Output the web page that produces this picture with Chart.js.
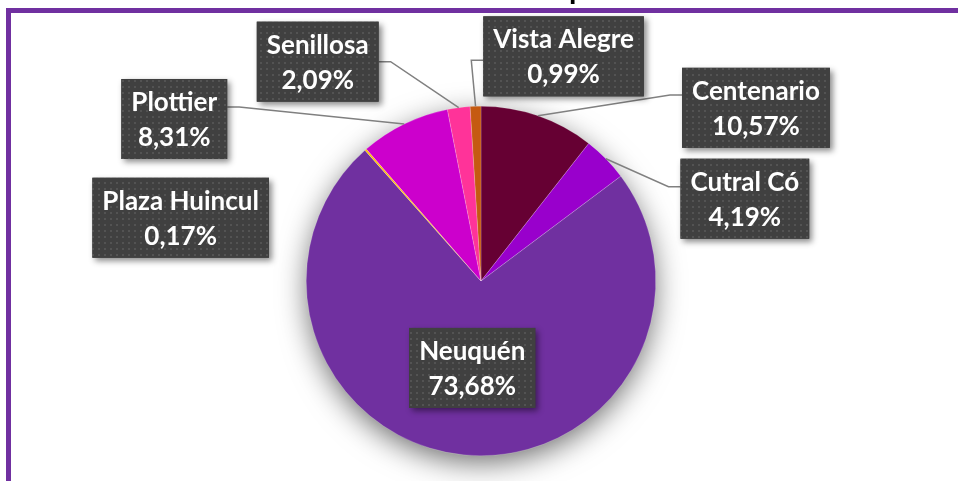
<!DOCTYPE html>
<html>
<head>
<meta charset="utf-8">
<script src="https://cdn.jsdelivr.net/npm/chart.js@4.4.1/dist/chart.umd.min.js"></script>
<style>
  html, body { margin: 0; padding: 0; background: #fff; overflow: hidden; }
  #wrap { width: 958px; height: 481px; position: relative; }
</style>
</head>
<body>
<div id="wrap"><canvas id="pieChart" width="958" height="481"></canvas></div>
<script>
// --- Chart data ---
const chartTitle = "Distribución de habitantes por ciudad";
const cities = ["Centenario", "Cutral Có", "Neuquén", "Plaza Huincul", "Plottier", "Senillosa", "Vista Alegre"];
const shares = [10.57, 4.19, 73.68, 0.17, 8.31, 2.09, 0.99];
const sliceColors = ["#660033", "#9900CC", "#7030A0", "#FFC000", "#CC00CC", "#FF3399", "#C55A11"];

// Label box placement: centre offset from the slice anchor (edge of the arc, or half radius when inside)
const labelLayout = [
    { dx: 218, dy: -8, lineAt: 0.34, leader: true },   // Centenario
    { dx: 139, dy: 40, lineAt: 0.35, leader: true },   // Cutral Có
    { dx: 0, dy: 0, inside: true, leader: false },     // Neuquén
    { dx: -185, dy: 68, lineAt: 0.5, leader: false },  // Plaza Huincul
    { dx: -230, dy: -5, lineAt: 0.35, leader: true },  // Plottier
    { dx: -141, dy: -46, lineAt: 0.5, leader: true },  // Senillosa
    { dx: 88, dy: -50, lineAt: 0.55, leader: true }    // Vista Alegre
];

const LABEL_FONT = "bold 26px Lato";
const BOX_H = 80;
const BOX_PAD = 10;

const fmtPct = v => v.toFixed(2).replace(".", ",") + "%";

// Dark dotted fill used by the data label boxes
function makeDotPattern(ctx) {
    const tile = document.createElement("canvas");
    tile.width = 6;
    tile.height = 6;
    const g = tile.getContext("2d");
    g.fillStyle = "#404040";
    g.fillRect(0, 0, 6, 6);
    g.fillStyle = "#535353";
    g.fillRect(2, 2, 2, 2);
    return ctx.createPattern(tile, "repeat");
}

// --- Frame, cut-off title and the pie's soft shadow ---
const framePlugin = {
    id: "frame",
    beforeDraw(chart) {
        const ctx = chart.ctx;
        ctx.save();
        ctx.fillStyle = "#ffffff";
        ctx.fillRect(0, 0, chart.width, chart.height);

        // title sits above the visible area, only the descender of the "p" shows
        ctx.font = "bold 30px Lato";
        ctx.fillStyle = "#000000";
        ctx.textAlign = "left";
        ctx.textBaseline = "alphabetic";
        const pIdx = chartTitle.indexOf(" por") + 1;
        const before = ctx.measureText(chartTitle.slice(0, pIdx)).width;
        ctx.fillText(chartTitle, 569 - before, -1);

        ctx.strokeStyle = "#7030A0";
        ctx.lineWidth = 5;
        ctx.strokeRect(8.5, 10.5, 1200, 1200);

        // soft shadow under the pie
        const arc = chart.getDatasetMeta(0).data[0];
        if (arc) {
            ctx.shadowColor = "rgba(0, 0, 0, 0.6)";
            ctx.shadowBlur = 30;
            ctx.shadowOffsetY = 8;
            ctx.fillStyle = "#ffffff";
            ctx.beginPath();
            ctx.arc(arc.x, arc.y, arc.outerRadius - 2, 0, Math.PI * 2);
            ctx.fill();
        }
        ctx.restore();
    }
};

// --- Excel-style data labels with leader lines ---
const labelPlugin = {
    id: "boxLabels",
    afterDatasetsDraw(chart) {
        const ctx = chart.ctx;
        const arcs = chart.getDatasetMeta(0).data;
        const pattern = makeDotPattern(ctx);
        ctx.save();
        ctx.font = LABEL_FONT;

        const boxes = arcs.map((arc, i) => {
            const lay = labelLayout[i];
            const mid = (arc.startAngle + arc.endAngle) / 2;
            const r = lay.inside ? arc.outerRadius * 0.5 : arc.outerRadius;
            const ax = arc.x + r * Math.cos(mid);
            const ay = arc.y + r * Math.sin(mid);
            const lines = [cities[i], fmtPct(shares[i])];
            const w = Math.max(...lines.map(t => ctx.measureText(t).width)) + BOX_PAD * 2;
            const cx = ax + lay.dx;
            const cy = ay + lay.dy;
            return { ax, ay, cx, cy, w, lines, lay };
        });

        // leader lines
        ctx.strokeStyle = "#808080";
        ctx.lineWidth = 1.5;
        boxes.forEach(b => {
            if (!b.lay.leader) return;
            const top = b.cy - BOX_H / 2;
            const ly = top + BOX_H * b.lay.lineAt;
            const side = b.cx > b.ax ? -1 : 1;
            const ex = b.cx + side * b.w / 2;
            ctx.beginPath();
            ctx.moveTo(ex, ly);
            ctx.lineTo(ex + side * 12, ly);
            ctx.lineTo(b.ax, b.ay);
            ctx.stroke();
        });

        // boxes
        boxes.forEach(b => {
            const x = b.cx - b.w / 2;
            const y = b.cy - BOX_H / 2;
            ctx.save();
            ctx.shadowColor = "rgba(0, 0, 0, 0.45)";
            ctx.shadowBlur = 6;
            ctx.shadowOffsetX = 3;
            ctx.shadowOffsetY = 3;
            ctx.fillStyle = "#404040";
            ctx.fillRect(x, y, b.w, BOX_H);
            ctx.restore();
            ctx.fillStyle = pattern;
            ctx.fillRect(x, y, b.w, BOX_H);

            ctx.fillStyle = "#ffffff";
            ctx.textAlign = "center";
            ctx.textBaseline = "alphabetic";
            ctx.fillText(b.lines[0], b.cx, b.cy - 8);
            ctx.fillText(b.lines[1], b.cx, b.cy + 27);
        });
        ctx.restore();
    }
};

new Chart(document.getElementById("pieChart"), {
    type: "pie",
    data: {
        labels: cities,
        datasets: [{
            data: shares,
            backgroundColor: sliceColors,
            borderColor: "rgba(255, 255, 255, 0.35)",
            borderWidth: 0.5
        }]
    },
    options: {
        responsive: false,
        animation: false,
        layout: { padding: { top: 106, bottom: 25, left: 4, right: 0 } },
        plugins: {
            legend: { display: false },
            tooltip: { enabled: false }
        }
    },
    plugins: [framePlugin, labelPlugin]
});
</script>
</body>
</html>
